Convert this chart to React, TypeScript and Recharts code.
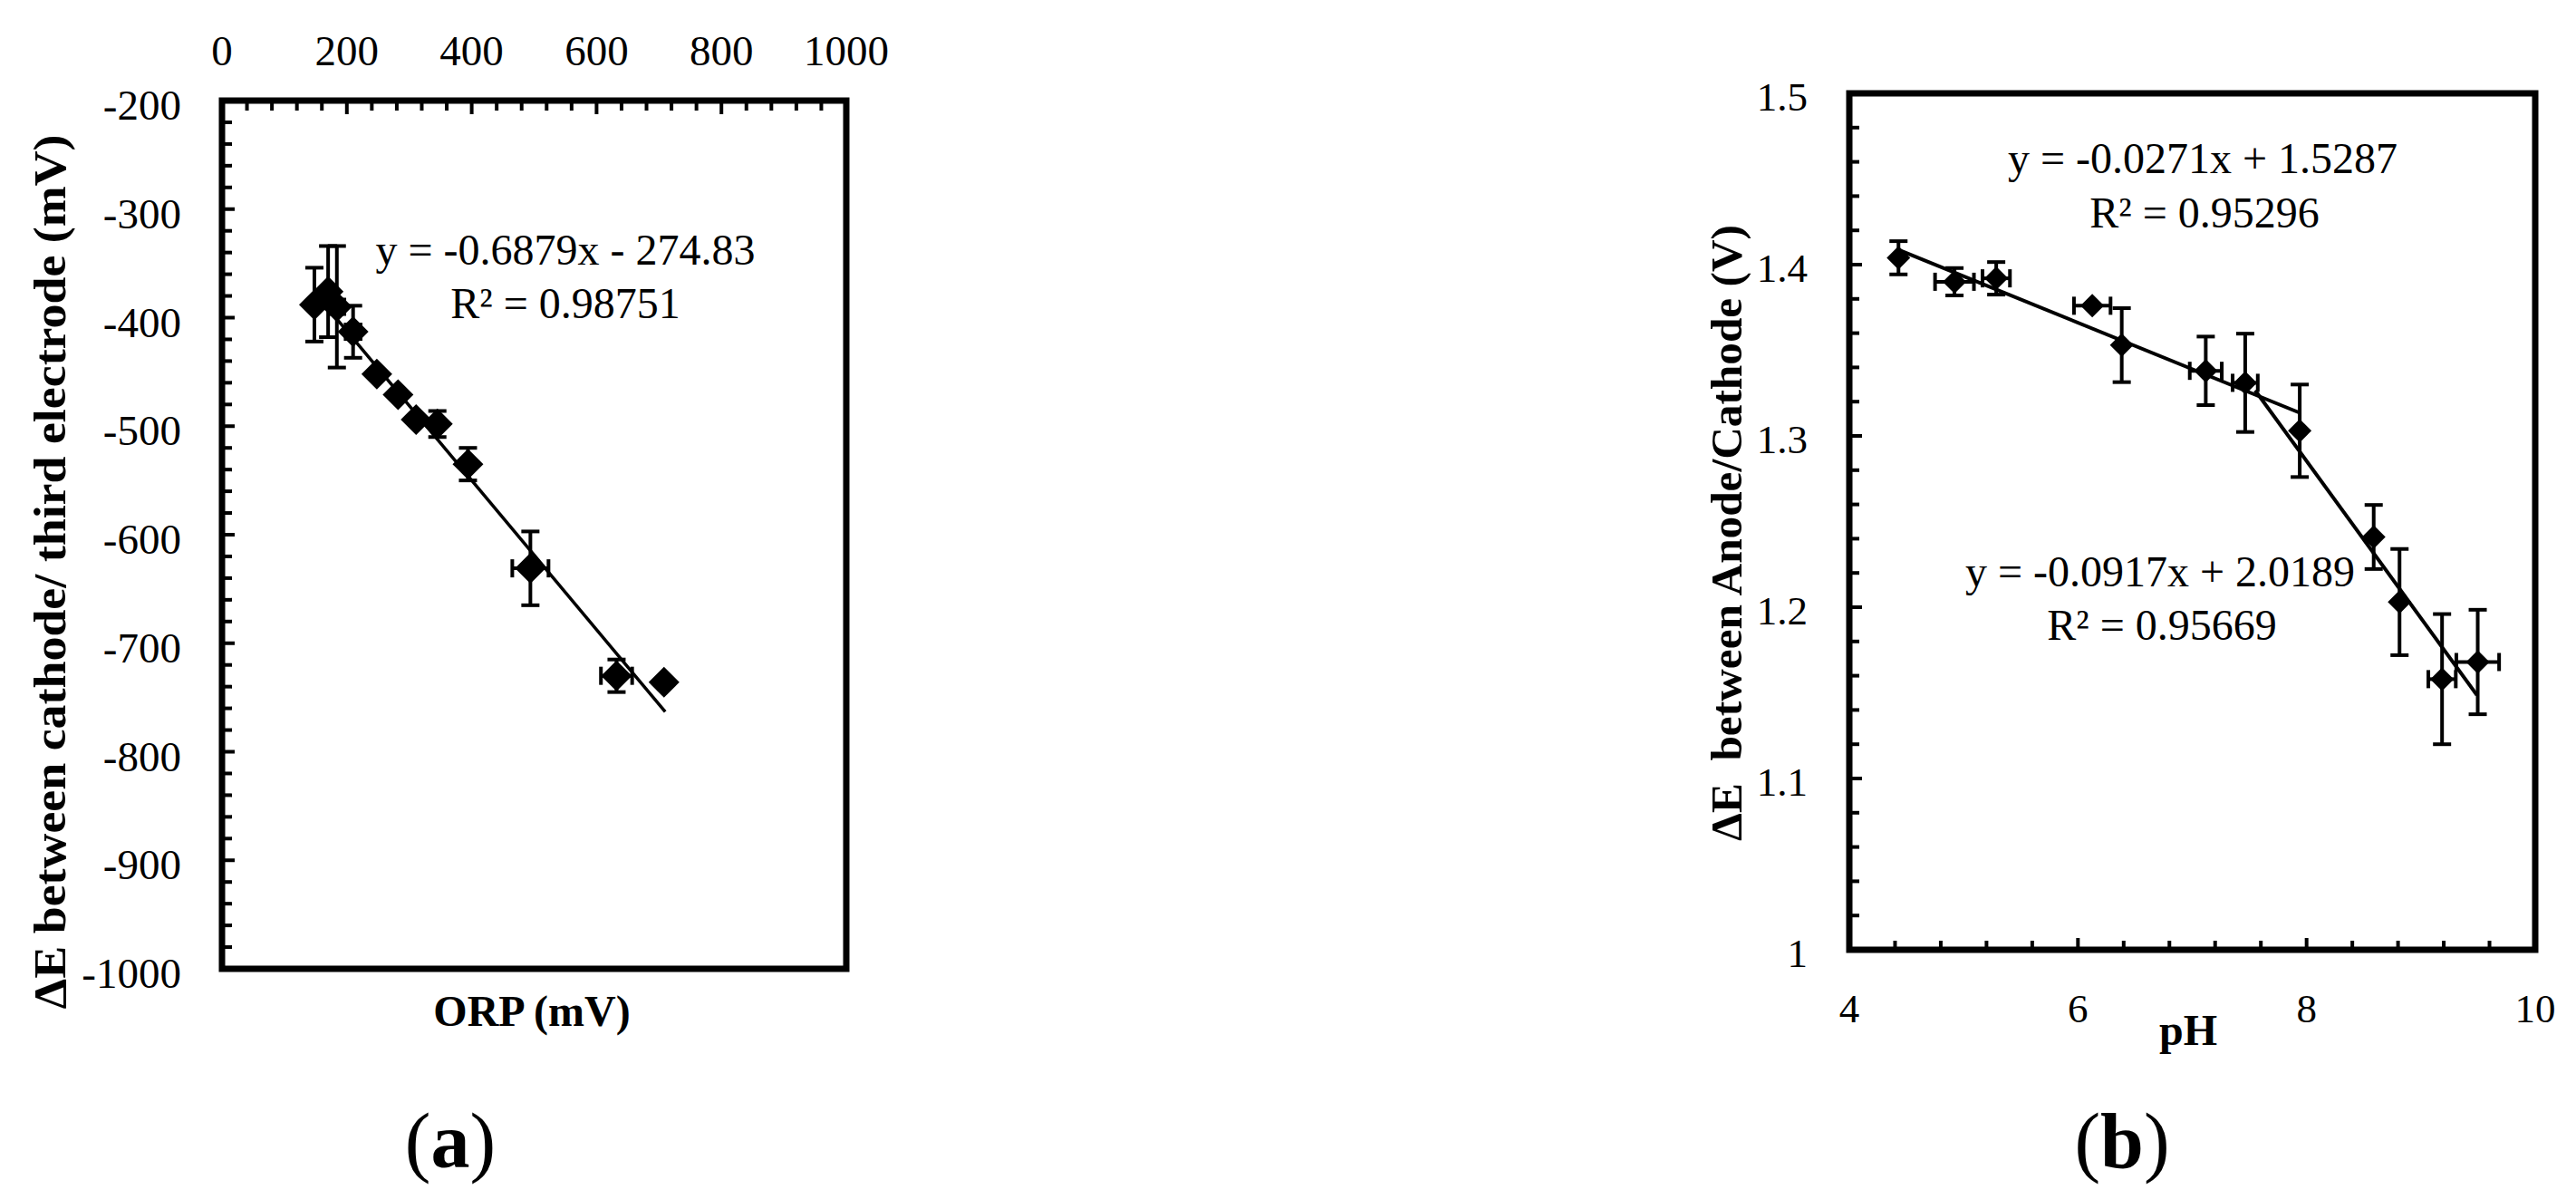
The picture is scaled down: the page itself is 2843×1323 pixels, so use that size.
import React from 'react';
import { ScatterChart, Scatter, XAxis, YAxis, ErrorBar, ReferenceArea } from 'recharts';

// ---------- Chart (a): ORP vs ΔE ----------
const orpValues = [148, 170, 184, 210, 248, 282, 311, 345, 394, 494, 632, 708];
const deltaEA = [-388, -376, -390, -413, -452, -471, -494, -498, -535, -631, -730, -736];
const deltaEAErr = [34, 42, 56, 24, 0, 0, 0, 12, 15, 34, 15, 0];
const orpErr = [0, 0, 12, 12, 0, 0, 0, 0, 0, 29, 25, 0];
const trendAX = [148, 710];
const trendAY = [-376.6, -763.2];
const xMajorA = [0, 200, 400, 600, 800, 1000];
const yMajorA = [-1000, -900, -800, -700, -600, -500, -400, -300, -200];

// ---------- Chart (b): pH vs ΔE ----------
const phValues = [4.43, 4.92, 5.285, 6.125, 6.383, 7.118, 7.463, 7.94, 8.587, 8.813, 9.185, 9.497];
const deltaEB = [1.404, 1.39, 1.392, 1.376, 1.353, 1.338, 1.331, 1.303, 1.241, 1.203, 1.158, 1.168];
const deltaEBErr = [0.0097, 0.008, 0.0095, 0, 0.0216, 0.02, 0.0287, 0.027, 0.0187, 0.031, 0.038, 0.0305];
const phErr = [0, 0.17, 0.12, 0.16, 0, 0.14, 0.11, 0, 0, 0, 0.12, 0.187];
const trend1X = [4.43, 7.94];
const trend1Y = [1.4087, 1.3135];
const trend2X = [7.55, 9.49];
const trend2Y = [1.3266, 1.1487];
const xMajorB = [4, 6, 8, 10];
const yMajorB = [1, 1.1, 1.2, 1.3, 1.4, 1.5];

const FONT = "'Liberation Serif', 'Times New Roman', serif";

const steps = (from: number, to: number, step: number) => {
  const out: number[] = [];
  const n = Math.round((to - from) / step);
  for (let i = 0; i <= n; i++) out.push(Math.round((from + i * step) * 10000) / 10000);
  return out;
};
const isMajor = (majors: number[], v: number) => majors.find((m) => Math.abs(m - v) < 1e-6);

const pointsA = orpValues.map((x, i) => ({ x, y: deltaEA[i], ey: deltaEAErr[i], ex: orpErr[i] }));
const pointsB = phValues.map((x, i) => ({ x, y: deltaEB[i], ey: deltaEBErr[i], ex: phErr[i] }));
const lineA = trendAX.map((x, i) => ({ x, y: trendAY[i] }));
const line1B = trend1X.map((x, i) => ({ x, y: trend1Y[i] }));
const line2B = trend2X.map((x, i) => ({ x, y: trend2Y[i] }));

const diamond = (r: number) => (props: any) => {
  const { cx, cy } = props;
  if (cx == null || cy == null) return <g />;
  return <polygon points={`${cx},${cy - r} ${cx + r},${cy} ${cx},${cy + r} ${cx - r},${cy}`} fill="#000" />;
};
const noShape = () => <g />;

// tick renderers (ticks drawn inward)
const TopTickA = (props: any) => {
  const { x, y, payload } = props;
  const m = isMajor(xMajorA, payload.value);
  return (
    <g>
      <line x1={x} x2={x} y1={y} y2={y + (m !== undefined ? 15 : 11)} stroke="#000" strokeWidth={4} />
      {m !== undefined && (
        <text x={x} y={y - 39} textAnchor="middle" fontSize={47} fontFamily={FONT} fill="#000">{String(m)}</text>
      )}
    </g>
  );
};
const LeftTickA = (props: any) => {
  const { x, y, payload } = props;
  const m = isMajor(yMajorA, payload.value);
  return (
    <g>
      <line x1={x} x2={x + (m !== undefined ? 14 : 11)} y1={y} y2={y} stroke="#000" strokeWidth={4} />
      {m !== undefined && (
        <text x={x - 45} y={y + 21} textAnchor="end" fontSize={47} fontFamily={FONT} fill="#000">{String(m)}</text>
      )}
    </g>
  );
};
const BottomTickB = (props: any) => {
  const { x, y, payload } = props;
  const m = isMajor(xMajorB, payload.value);
  return (
    <g>
      <line x1={x} x2={x} y1={y} y2={y - (m !== undefined ? 13 : 10)} stroke="#000" strokeWidth={4} />
      {m !== undefined && (
        <text x={x} y={y + 80} textAnchor="middle" fontSize={45} fontFamily={FONT} fill="#000">{String(m)}</text>
      )}
    </g>
  );
};
const LeftTickB = (props: any) => {
  const { x, y, payload } = props;
  const m = isMajor(yMajorB, payload.value);
  return (
    <g>
      <line x1={x} x2={x + (m !== undefined ? 14 : 11)} y1={y} y2={y} stroke="#000" strokeWidth={4} />
      {m !== undefined && (
        <text x={x - 46} y={y + 19} textAnchor="end" fontSize={45} fontFamily={FONT} fill="#000">{String(m)}</text>
      )}
    </g>
  );
};

const txt = (x: number, y: number, s: string, size = 48, extra: any = {}) => (
  <text x={x} y={y} textAnchor="middle" fontSize={size} fontFamily={FONT} fill="#000" {...extra}>{s}</text>
);

export default function App() {
  return (
    <div style={{ position: 'absolute', left: 0, top: 0, width: 2843, height: 1323, background: '#fff' }}>
      <div style={{ position: 'absolute', left: 0, top: 0 }}>
        <ScatterChart width={1000} height={1323} margin={{ top: 110, left: 244, right: 66, bottom: 254 }}>
          <XAxis type="number" dataKey="x" orientation="top" domain={[0, 1000]} ticks={steps(0, 1000, 40)}
            interval={0} tick={TopTickA} tickLine={false} axisLine={false} tickSize={0} tickMargin={0}
            height={1} allowDataOverflow />
          <YAxis type="number" dataKey="y" domain={[-1000, -200]} ticks={steps(-1000, -200, 20)}
            interval={0} tick={LeftTickA} tickLine={false} axisLine={false} tickSize={0} tickMargin={0}
            width={1} allowDataOverflow />
          <Scatter data={lineA} line={{ stroke: '#000', strokeWidth: 3.5 }} shape={noShape} isAnimationActive={false} />
          <Scatter data={pointsA} shape={diamond(17)} isAnimationActive={false}>
            <ErrorBar dataKey="ey" direction="y" width={10} stroke="#000" strokeWidth={4} />
            <ErrorBar dataKey="ex" direction="x" width={10} stroke="#000" strokeWidth={4} />
          </Scatter>
          <ReferenceArea x1={0} x2={1000} y1={-1000} y2={-200} fill="none" stroke="#000" strokeWidth={7} ifOverflow="visible" />
        </ScatterChart>
      </div>
      <div style={{ position: 'absolute', left: 1700, top: 0 }}>
        <ScatterChart width={1143} height={1323} margin={{ top: 103, left: 340, right: 45, bottom: 274 }}>
          <XAxis type="number" dataKey="x" orientation="bottom" domain={[4, 10]} ticks={steps(4, 10, 0.4)}
            interval={0} tick={BottomTickB} tickLine={false} axisLine={false} tickSize={0} tickMargin={0}
            height={1} allowDataOverflow />
          <YAxis type="number" dataKey="y" domain={[1, 1.5]} ticks={steps(1, 1.5, 0.02)}
            interval={0} tick={LeftTickB} tickLine={false} axisLine={false} tickSize={0} tickMargin={0}
            width={1} allowDataOverflow />
          <Scatter data={line1B} line={{ stroke: '#000', strokeWidth: 4 }} shape={noShape} isAnimationActive={false} />
          <Scatter data={line2B} line={{ stroke: '#000', strokeWidth: 4 }} shape={noShape} isAnimationActive={false} />
          <Scatter data={pointsB} shape={diamond(13)} isAnimationActive={false}>
            <ErrorBar dataKey="ey" direction="y" width={10} stroke="#000" strokeWidth={4} />
            <ErrorBar dataKey="ex" direction="x" width={10} stroke="#000" strokeWidth={4} />
          </Scatter>
          <ReferenceArea x1={4} x2={10} y1={1} y2={1.5} fill="none" stroke="#000" strokeWidth={7} ifOverflow="visible" />
        </ScatterChart>
      </div>
      <svg width={2843} height={1323} style={{ position: 'absolute', left: 0, top: 0, pointerEvents: 'none' }}>
        {txt(624, 292, 'y = -0.6879x - 274.83')}
        {txt(624, 351, 'R² = 0.98751')}
        {txt(587, 1132, 'ORP (mV)', 48, { fontWeight: 'bold' })}
        <text transform="translate(72,631) rotate(-90)" textAnchor="middle" fontSize={50} fontWeight="bold"
          fontFamily={FONT} fill="#000" textLength={965} lengthAdjust="spacingAndGlyphs">
          ΔE between cathode/ third electrode (mV)
        </text>
        {txt(2431, 191, 'y = -0.0271x + 1.5287')}
        {txt(2433, 251, 'R² = 0.95296')}
        {txt(2384, 647, 'y = -0.0917x + 2.0189')}
        {txt(2386, 706, 'R² = 0.95669')}
        {txt(2415, 1153, 'pH', 48, { fontWeight: 'bold' })}
        <text transform="translate(1922,588) rotate(-90)" textAnchor="middle" fontSize={48} fontWeight="bold"
          fontFamily={FONT} fill="#000" textLength={680} lengthAdjust="spacingAndGlyphs">
          {'ΔE\u00A0 between Anode/Cathode (V)'}
        </text>
        <text x={497} y={1288} textAnchor="middle" fontSize={86} fontFamily={FONT} fill="#000">
          (<tspan fontWeight="bold">a</tspan>)
        </text>
        <text x={2342} y={1288} textAnchor="middle" fontSize={86} fontFamily={FONT} fill="#000">
          (<tspan fontWeight="bold">b</tspan>)
        </text>
      </svg>
    </div>
  );
}
